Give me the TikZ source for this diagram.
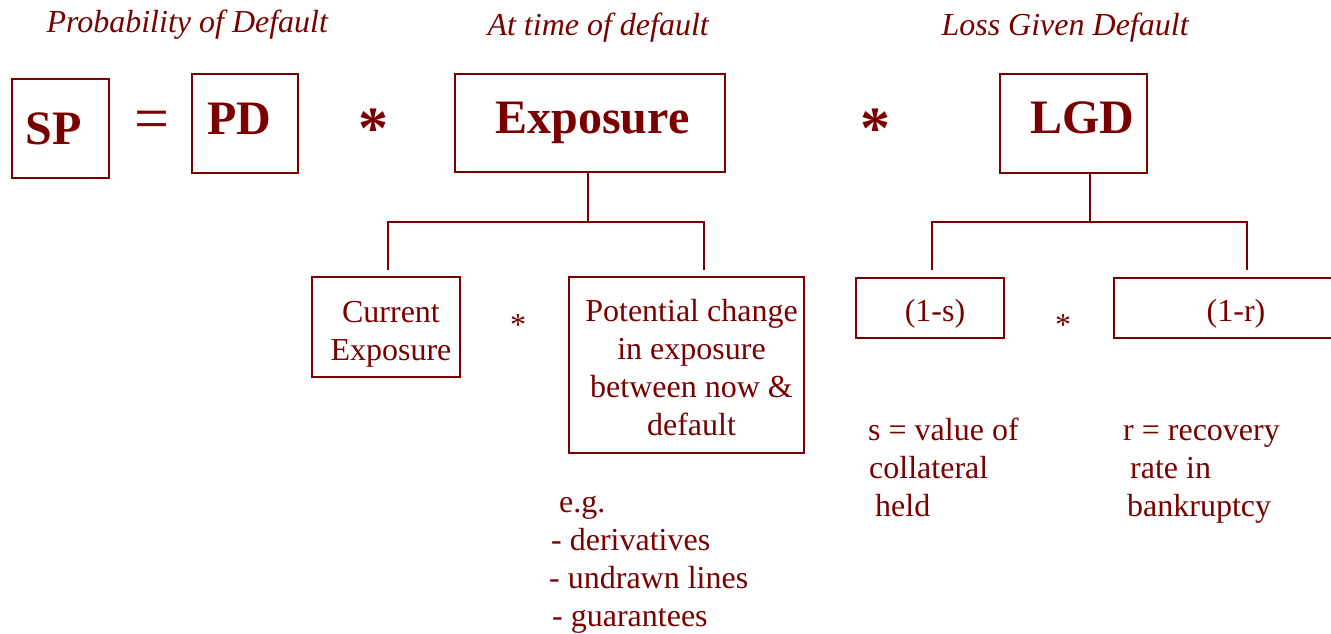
\documentclass[tikz,border=0pt]{standalone}
\usepackage{fontspec}
\setmainfont{Liberation Serif}
\usetikzlibrary{calc}

\definecolor{dred}{RGB}{122,0,0}
% move the text inside a box without changing the box
\newcommand{\nudge}[3]{\hspace*{#1}\raisebox{#2}[\height][\depth]{#3}\hspace*{-#1}}

\begin{document}
\begin{tikzpicture}[x=1pt, y=-1pt,
    box/.style={draw=dred, line width=2pt, inner sep=0pt, text=dred},
    conn/.style={draw=dred, line width=2pt},
    bigtxt/.style={font=\fontsize{48}{56}\selectfont\bfseries},
    startxt/.style={font=\fontsize{60}{70}\selectfont\bfseries, text=dred},
    midtxt/.style={font=\fontsize{32}{38}\selectfont, text=dred},
    notetxt/.style={midtxt, align=left, anchor=north west, inner sep=0pt},
    hdrtxt/.style={font=\fontsize{32}{38}\selectfont\itshape, text=dred, anchor=base west}]

    % --- 1. Frame (the last box runs off the right edge) ---
    \useasboundingbox (0,0) rectangle (1331,633);
    \clip (0,0) rectangle (1331,633);

    % --- 2. Headings ---
    \node[hdrtxt] (hpd) at (43,32) {Probability of Default};
    \node[hdrtxt] (hexp) at (484,35) {At time of default};
    \node[hdrtxt] (hlgd) at (938,35) {Loss Given Default};

    % --- 3. Top row: SP = PD * Exposure * LGD ---
    \node[box, bigtxt, minimum width=97, minimum height=99] (sp) at (60.5,128.5) {\nudge{-7pt}{0pt}{SP}};
    \node[text=dred, font=\fontsize{62}{70}\selectfont] (eq) at (152,125) {=};
    \node[box, bigtxt, minimum width=106, minimum height=99] (pd) at (245,123.5) {\nudge{-5.5pt}{4.5pt}{PD}};
    \node[startxt] (m1) at (373,128.5) {*};
    \node[box, bigtxt, minimum width=270, minimum height=98] (expo) at (590,123) {\nudge{2.5pt}{0pt}{Exposure}};
    \node[startxt] (m2) at (875,128.5) {*};
    \node[box, bigtxt, minimum width=147, minimum height=99] (lgd) at (1073.5,123.5) {\nudge{8.5pt}{6pt}{LGD}};

    % --- 4. Exposure split ---
    \node[box, midtxt, minimum width=148, minimum height=100] (cur) at (386,327)
        {\nudge{5pt}{-6.5pt}{\begin{tabular}{@{}c@{}}Current\\Exposure\end{tabular}}};
    \node[midtxt] (m3) at (518,325) {*};
    \node[box, midtxt, minimum width=235, minimum height=176] (pot) at (686.5,365)
        {\nudge{5pt}{-6pt}{\begin{tabular}{@{}c@{}}Potential change\\in exposure\\between now \&\\default\end{tabular}}};

    \coordinate (ej) at (588,222);
    \draw[conn] (expo.south -| ej) -- (ej);
    \draw[conn] (388,270) |- (ej) -| (704,270);

    % --- 5. LGD split ---
    \node[box, midtxt, minimum width=148, minimum height=60] (ones) at (930,308) {\nudge{5pt}{-6pt}{(1-s)}};
    \node[midtxt] (m4) at (1063,325) {*};
    \node[box, midtxt, minimum width=246, minimum height=60] (oner) at (1237,308) {\nudge{-1pt}{-6pt}{(1-r)}};

    \coordinate (lj) at (1090,222);
    \draw[conn] (lgd.south -| lj) -- (lj);
    \draw[conn] (932,270) |- (lj) -| (1247,270);

    % --- 6. Notes ---
    \node[notetxt] (eg) at (549,485.5)
        {\strut\hspace*{10pt}e.g.\\\hspace*{2pt}- derivatives\\- undrawn lines\\\hspace*{3pt}- guarantees};
    \node[notetxt] (snote) at (868,413.5)
        {\strut s = value of\\\hspace*{1pt}collateral\\\hspace*{7pt}held};
    \node[notetxt] (rnote) at (1123,413.5)
        {\strut r = recovery\\\hspace*{7pt}rate in\\\hspace*{4pt}bankruptcy};

\end{tikzpicture}
\end{document}
